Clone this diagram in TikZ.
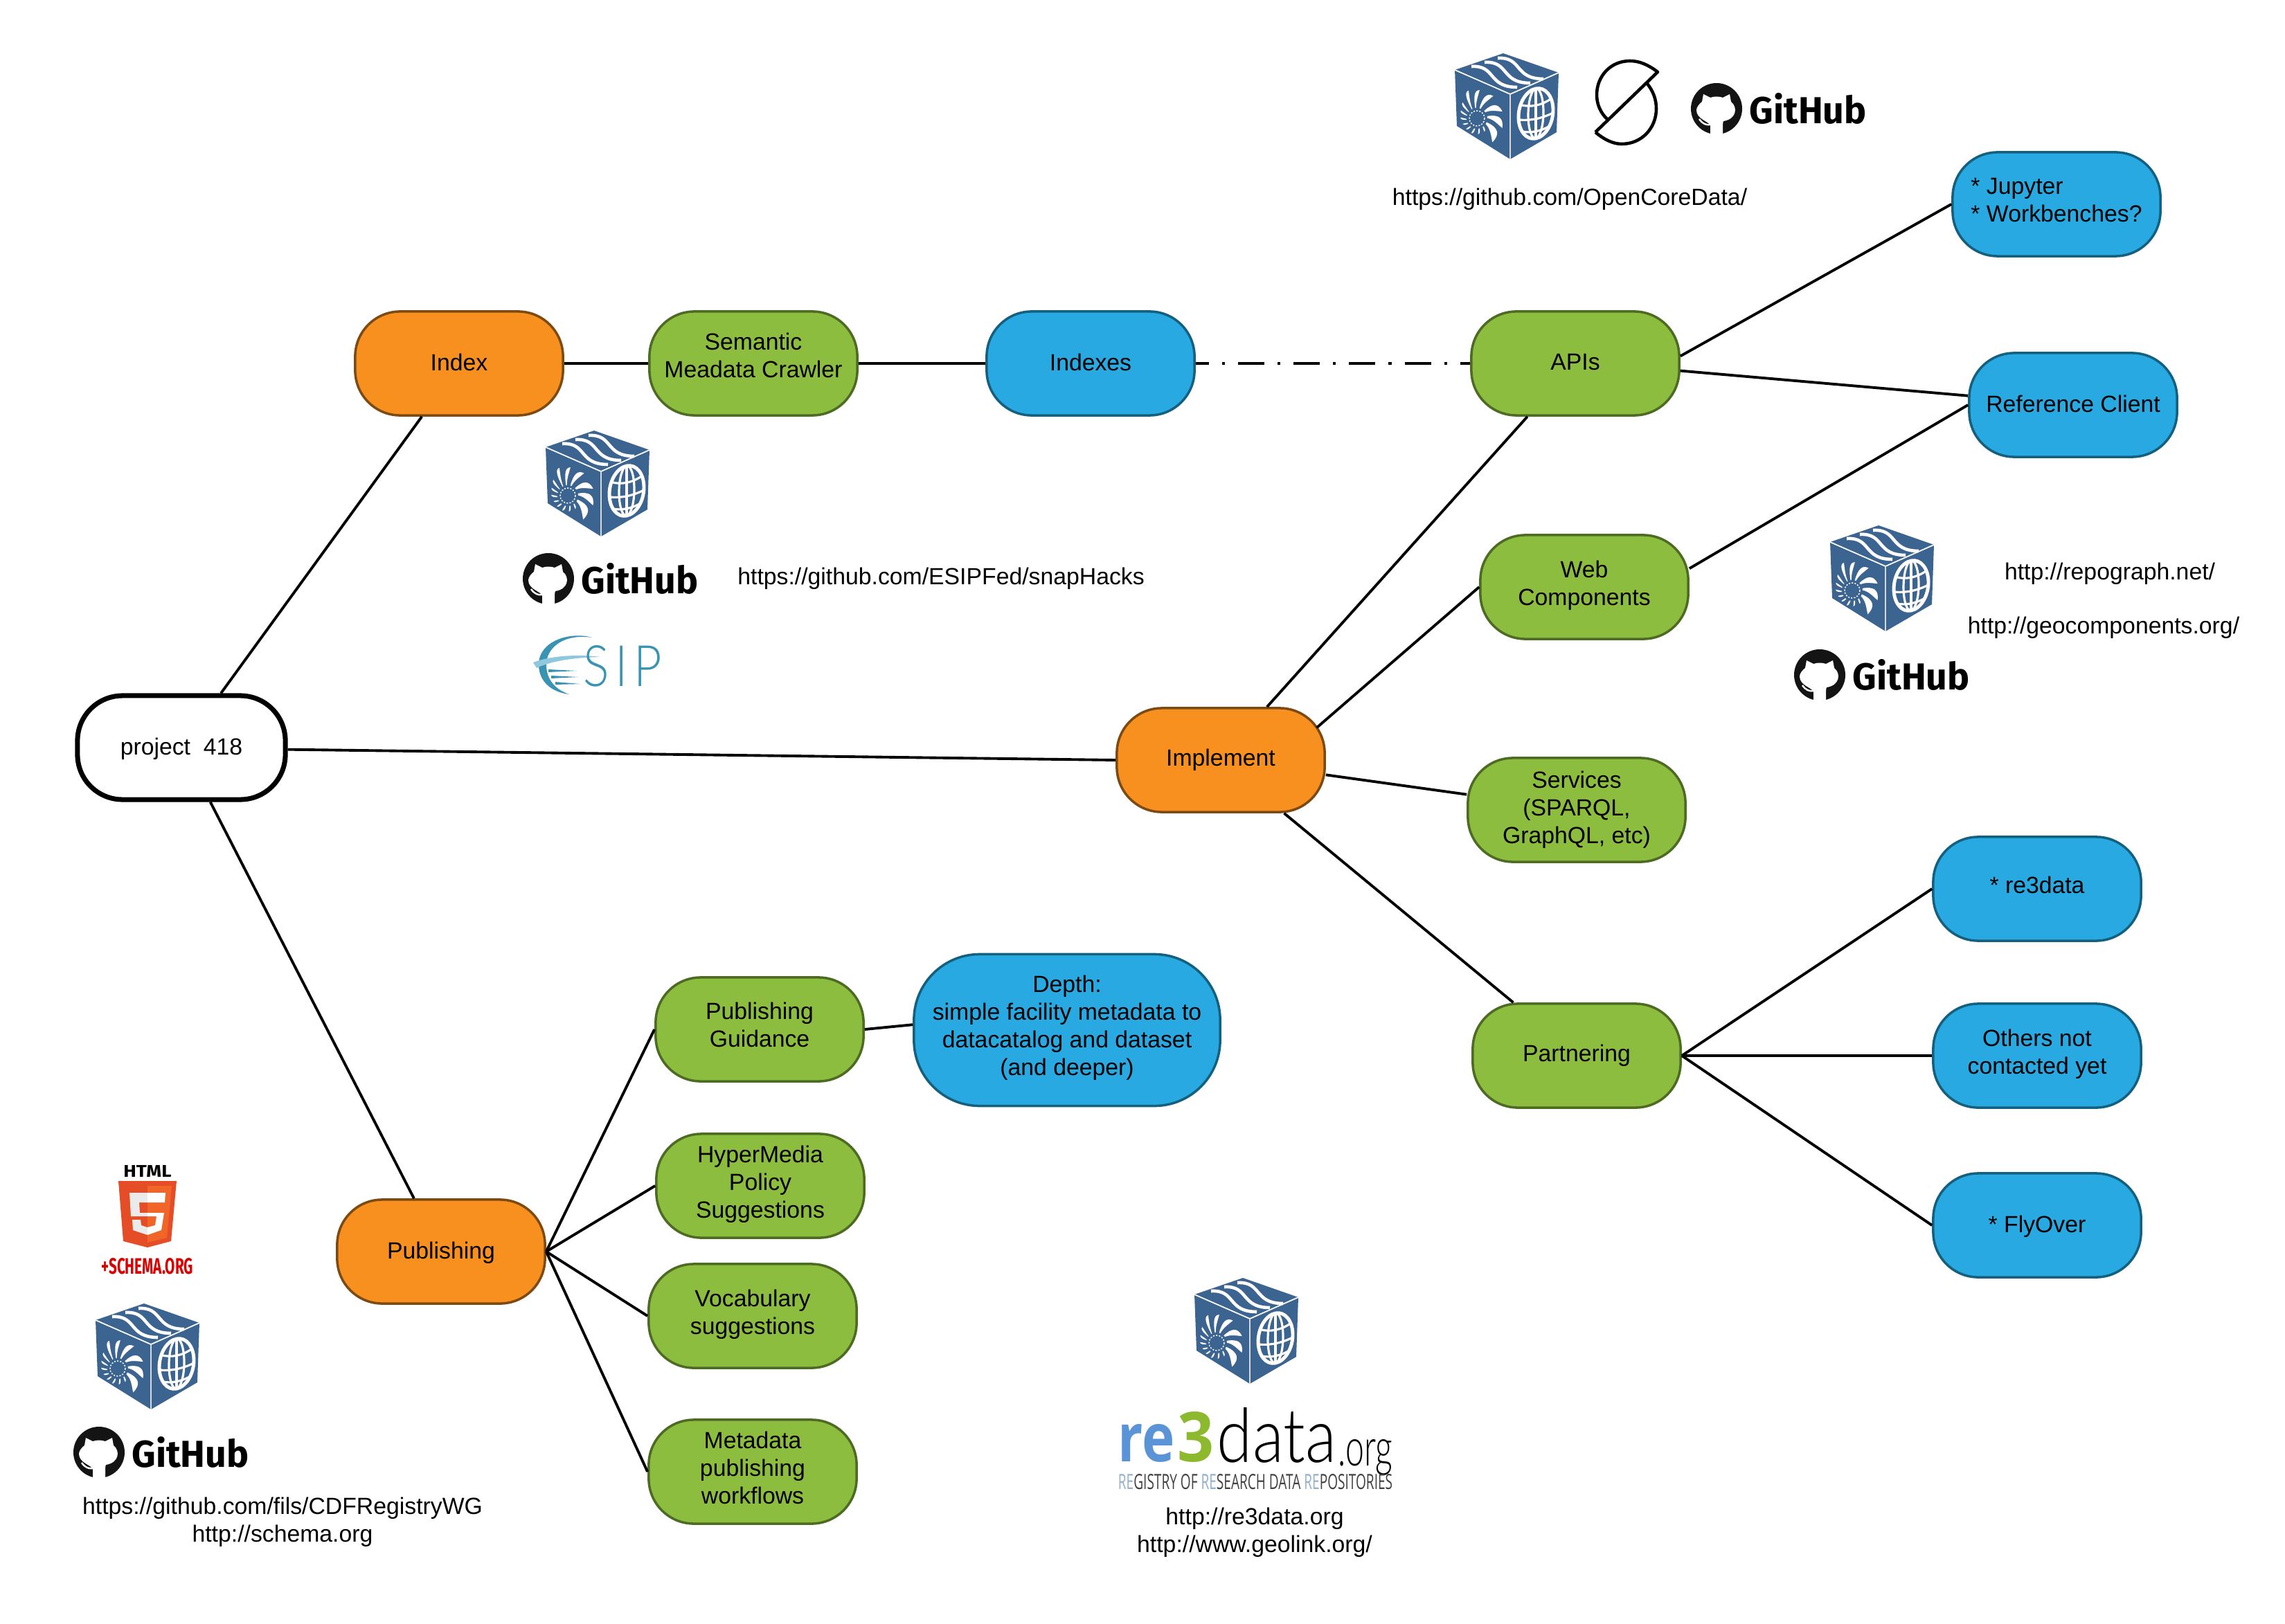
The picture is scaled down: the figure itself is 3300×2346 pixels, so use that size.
\documentclass[tikz,border=0pt]{standalone}
\usepackage{fontspec}
\setmainfont{Liberation Sans}
\newfontfamily\ghfont{Fira Sans}
\newfontfamily\opfont{Open Sans}
\newfontfamily\thinfont[UprightFont={* Light}]{Lato}
\newfontfamily\esipfont[LetterSpace=12,UprightFont={* Light}]{Lato}
\definecolor{orangefill}{HTML}{F7901E}
\definecolor{orangeline}{HTML}{7D4A12}
\definecolor{greenfill}{HTML}{8CBD3F}
\definecolor{greenline}{HTML}{4D6B22}
\definecolor{bluefill}{HTML}{29A9E1}
\definecolor{blueline}{HTML}{14607F}
\definecolor{cubeblue}{HTML}{3C6491}
\definecolor{esipteal}{HTML}{3A93B3}
\definecolor{esiplight}{HTML}{8FC8DC}
\definecolor{htmldark}{HTML}{E44D26}
\definecolor{htmllight}{HTML}{F16529}
\definecolor{reblue}{HTML}{5B94D6}
\definecolor{regreen}{HTML}{8DB92E}
\definecolor{regrey}{HTML}{8FB0CF}
\tikzset{
  basebox/.style={rectangle, rounded corners=0.65cm, draw, line width=1pt, minimum width=3cm, minimum height=1.5cm,
    inner sep=0pt, align=center, font=\fontsize{9.6}{11.4}\selectfont},
  hubbox/.style={basebox, line width=2pt, fill=white, draw=black},
  orangebox/.style={basebox, fill=orangefill, draw=orangeline},
  greenbox/.style={basebox, fill=greenfill, draw=greenline},
  bluebox/.style={basebox, fill=bluefill, draw=blueline},
  urltext/.style={inner sep=0pt, align=center, font=\fontsize{9.6}{11.4}\selectfont},
  logotext/.style={inner sep=0pt},
  link/.style={line width=1.1pt, black},
  pics/cubelogo/.style={code={
      \fill[cubeblue] (-5,-77) -- (75,-49) -- (72,37) -- (5,76) -- (-72,28) -- (-75,-53) -- cycle;
      \draw[white, line width=0.5pt] (-75,-53) -- (5,-18) -- (75,-49);
      \draw[white!70!gray, line width=0.5pt] (5,-18) -- (5,76);
      % waves on the lid
      \foreach \wx/\wy in {0/0, 19/-6, 38/-12}
        \draw[white, line width=1.3pt] (-51+\wx,-58+\wy) .. controls (-15+\wx,-60+\wy) and (-28+\wx,-28+\wy) .. (15+\wx,-28+\wy);
      % shell ribs
      \foreach \ra/\ro/\rw in {22/41/16, -12/39/15, -46/38/14, -76/40/10, -100/41/7, -120/42/6, -143/31/5, -165/26/5, 172/24/5, 148/22/5, 125/22/5, 100/23/5, 75/23/5, 50/22/5}
        \fill[white, shift={(-43,17)}] (\ra:15) .. controls (\ra+1:\ro*0.8) and (\ra+\rw*0.7:\ro) .. (\ra+\rw*2.2:\ro)
          .. controls (\ra+\rw*1.7:\ro*0.75) and (\ra+\rw:\ro*0.6) .. (\ra+\rw*0.7:15) -- cycle;
      \draw[white, line width=0.4pt, dash pattern=on 0.6pt off 0.6pt, shift={(-43,17)}] (0,0) circle (11);
      % globe
      \begin{scope}[shift={(42,10)}, yslant=0.2]
        \draw[white, line width=1.4pt] (0,0) ellipse (25 and 36);
        \draw[white, line width=0.9pt] (0,0) ellipse (11 and 36);
        \draw[white, line width=0.9pt] (0,-36) -- (0,36);
        \draw[white, line width=0.9pt] (-22,-17) .. controls (-8,-10) and (8,-10) .. (22,-17);
        \draw[white, line width=0.9pt] (-25,4) .. controls (-8,9) and (8,9) .. (25,4);
        \draw[white, line width=0.9pt] (-20,22) .. controls (-8,27) and (8,27) .. (20,22);
      \end{scope}
  }},
  pics/githublogo/.style={code={
      \fill[black!92] (0,0) circle (37);
      \fill[white] (-19,-21) -- (-9,-16) .. controls (-3,-18) and (3,-18) .. (9,-16) -- (19,-21) -- (21,-10)
        .. controls (31,-2) and (29,15) .. (10,18) .. controls (9,20) and (9,22) .. (9,37) -- (-9,37) -- (-9,24)
        .. controls (-12,18) and (-29,15) .. (-29,2) .. controls (-29,-2) and (-25,-7) .. (-21,-10) -- cycle;
      \draw[white, line width=0.7pt] (-25,15) .. controls (-20,22) and (-15,24) .. (-9,23);
      \node[logotext] (-word) at (132,0) {\resizebox{1.69cm}{0.44cm}{\ghfont\bfseries GitHub}};
  }}
}
\begin{document}
\begin{tikzpicture}[x=0.01cm, y=-0.01cm]
        \useasboundingbox (0,0) rectangle (3300,2346);

        % Main boxes
        \node[hubbox, text height=8.2pt] (project) at (262,1080) {project\ \ 418};
        \node[orangebox, text depth=1.2pt] (index) at (663,525) {Index};
        \node[orangebox] (implement) at (1763,1098) {Implement};
        \node[orangebox, text depth=1pt] (publishing) at (637,1808) {Publishing};

        % Index branch
        \node[greenbox, text depth=6.8pt] (crawler) at (1088,525) {Semantic\\Meadata Crawler};
        \node[bluebox, text depth=1.2pt] (indexes) at (1575,525) {Indexes};

        % Implement branch
        \node[greenbox, text depth=1.2pt] (apis) at (2275,525) {APIs};
        \node[greenbox, text depth=3.2pt] (webcomp) at (2288,848) {Web\\Components};
        \node[greenbox, minimum width=3.14cm] (services) at (2277,1170) {Services\\(SPARQL,\\GraphQL, etc)};
        \node[greenbox] (partnering) at (2277,1525) {Partnering};
        \node[bluebox, align=left, text depth=3.4pt] (jupyter) at (2970,295) {* Jupyter\\{}* Workbenches?};
        \node[bluebox, text depth=1.2pt] (refclient) at (2994,585) {Reference Client};
        \node[bluebox, text depth=3pt] (redata) at (2942,1284) {* re3data};
        \node[bluebox, text depth=3.2pt] (others) at (2942,1525) {Others not\\contacted yet};
        \node[bluebox, text height=8pt] (flyover) at (2942,1770) {* FlyOver};

        % Publishing branch
        \node[greenbox, text depth=3.6pt] (guidance) at (1097,1487) {Publishing\\Guidance};
        \node[bluebox, minimum width=4.42cm, minimum height=2.19cm, rounded corners=0.95cm, text depth=4pt] (depth) at (1541,1488) {Depth:\\simple facility metadata to\\datacatalog and dataset\\(and deeper)};
        \node[greenbox, text depth=3.2pt] (hypermedia) at (1098,1713) {HyperMedia\\Policy\\Suggestions};
        \node[greenbox, text depth=3.2pt] (vocabulary) at (1087,1901) {Vocabulary\\suggestions};
        \node[greenbox, text depth=3.2pt] (workflows) at (1087,2126) {Metadata\\publishing\\workflows};

        % Connectors
        \draw[link] (project.54) -- (index.235);
        \draw[link] (project.359) -- (implement.west);
        \draw[link] (project.298) -- (publishing.117);
        \draw[link] (index.east) -- (crawler.west);
        \draw[link] (crawler.east) -- (indexes.west);
        \draw[link, dash pattern=on 10.8pt off 5.4pt on 1.2pt off 5.4pt, dash phase=5.4pt] (indexes.east) -- (apis.west);
        \draw[link] (apis.4) -- (jupyter.west);
        \draw[link] (apis.356) -- (refclient.175);
        \draw[link] (webcomp.10) -- (refclient.west);
        \draw[link] (implement.49) -- (apis.228);
        \draw[link, shorten <=-5pt] (implement.21) -- (webcomp.west);
        \draw[link] (implement.352) -- (services.172);
        \draw[link] (implement.320) -- (partnering.140);
        \draw[link] (partnering.east) -- (redata.west);
        \draw[link] (partnering.east) -- (others.west);
        \draw[link] (partnering.east) -- (flyover.west);
        \draw[link] (publishing.east) -- (guidance.west);
        \draw[link] (publishing.east) -- (hypermedia.west);
        \draw[link] (publishing.east) -- (vocabulary.west);
        \draw[link] (publishing.east) -- (workflows.west);
        \draw[link] (guidance.east) -- (depth.178);

        % Cube and GitHub logos
        \pic (cube1) at (2176,154) {cubelogo};
        \pic (cube2) at (863,699) {cubelogo};
        \pic (cube3) at (2718,836) {cubelogo};
        \pic (cube4) at (213,1960) {cubelogo};
        \pic (cube5) at (1800,1923) {cubelogo};
        \pic (hub1) at (2479,157) {githublogo};
        \pic (hub2) at (792,836) {githublogo};
        \pic (hub3) at (2628,975) {githublogo};
        \pic (hub4) at (143,2098) {githublogo};

        % Split circle logo
        \draw[black, line width=1.3pt, line join=round] (2304,191) -- (2394,104) .. controls (2381,94) and (2368,88) .. (2354,88)
          .. controls (2326,88) and (2306,110) .. (2306,137) .. controls (2306,150) and (2311,163) .. (2322,173);
        \draw[black, line width=1.3pt, line join=round] (2304,191) .. controls (2316,201) and (2329,208) .. (2342,208)
          .. controls (2371,208) and (2392,185) .. (2392,157) .. controls (2392,143) and (2387,131) .. (2379,121);

        % ESIP logo
        \fill[esipteal] (855,921) .. controls (825,912) and (778,925) .. (778,960) .. controls (778,985) and (797,1000) .. (822,1003)
          .. controls (805,997) and (790,985) .. (789,962) .. controls (788,935) and (815,915) .. cycle;
        \fill[esiplight] (770,957) .. controls (795,947) and (835,945) .. (867,949) .. controls (835,950) and (800,953) .. (775,965) -- cycle;
        \foreach \sx/\sy/\ex/\ey in {792/969/833/969, 796/978/835/978, 802/987/838/988}
          \fill[esipteal] (\sx,\sy-2) -- (\ex,\ey) -- (\sx,\sy+2) -- cycle;
        \node[logotext, esipteal] (esipword) at (899,962) {\resizebox{1.13cm}{0.59cm}{\esipfont SIP}};

        % HTML5 logo
        \node[logotext] (htmlword) at (213,1692) {\resizebox{0.69cm}{0.17cm}{\ghfont\bfseries HTML}};
        \fill[htmldark] (171,1706) -- (255,1706) -- (247,1793) -- (213,1802) -- (178,1793) -- cycle;
        \fill[htmllight] (213,1713) -- (248,1713) -- (241,1788) -- (213,1795) -- cycle;
        \fill[white!92!black] (187,1723) -- (213,1723) -- (213,1737) -- (201,1737) -- (202,1752) -- (213,1752) -- (213,1757) -- (189,1757) -- cycle;
        \fill[white!92!black] (191,1762) -- (203,1762) -- (204,1770) -- (213,1773) -- (213,1784) -- (192,1777) -- cycle;
        \fill[white] (213,1723) -- (239,1723) -- (238,1737) -- (213,1737) -- cycle;
        \fill[white] (213,1752) -- (237,1752) -- (233,1777) -- (213,1784) -- (213,1773) -- (224,1770) -- (226,1757) -- (213,1757) -- cycle;
        \node[logotext, text=red!85!black] (schemaword) at (213,1829) {\resizebox{1.32cm}{0.23cm}{\ghfont\bfseries +SCHEMA.ORG}};

        % re3data logo
        \node[logotext, reblue] (reword) at (1656,2085) {\resizebox{0.82cm}{0.54cm}{\opfont\bfseries re}};
        \node[logotext, regreen] (threeword) at (1727,2076) {\resizebox{0.53cm}{0.72cm}{\opfont\bfseries 3}};
        \node[logotext] (dataword) at (1844,2073) {\resizebox{1.72cm}{0.79cm}{\thinfont data}};
        \node[logotext] (orgword) at (1972,2105) {\resizebox{0.79cm}{0.38cm}{\thinfont .org}};
        \node[logotext, black!75] (regword) at (1813,2141) {\resizebox{3.96cm}{0.22cm}{\opfont\textcolor{regrey}{RE}GISTRY OF \textcolor{regrey}{RE}SEARCH DATA \textcolor{regrey}{RE}POSITORIES}};

        % Links printed beside the logos
        \node[urltext] (urlcore) at (2267,288) {https://github.com/OpenCoreData/};
        \node[urltext] (urlsnap) at (1359,836) {https://github.com/ESIPFed/snapHacks};
        \node[urltext] (urlrepo) at (3047,829) {http://repograph.net/};
        \node[urltext] (urlgeo) at (3038,907) {http://geocomponents.org/};
        \node[urltext] (urlschema) at (408,2199) {https://github.com/fils/CDFRegistryWG\\http://schema.org};
        \node[urltext] (urlre) at (1812,2214) {http://re3data.org\\http://www.geolink.org/};
\end{tikzpicture}
\end{document}
